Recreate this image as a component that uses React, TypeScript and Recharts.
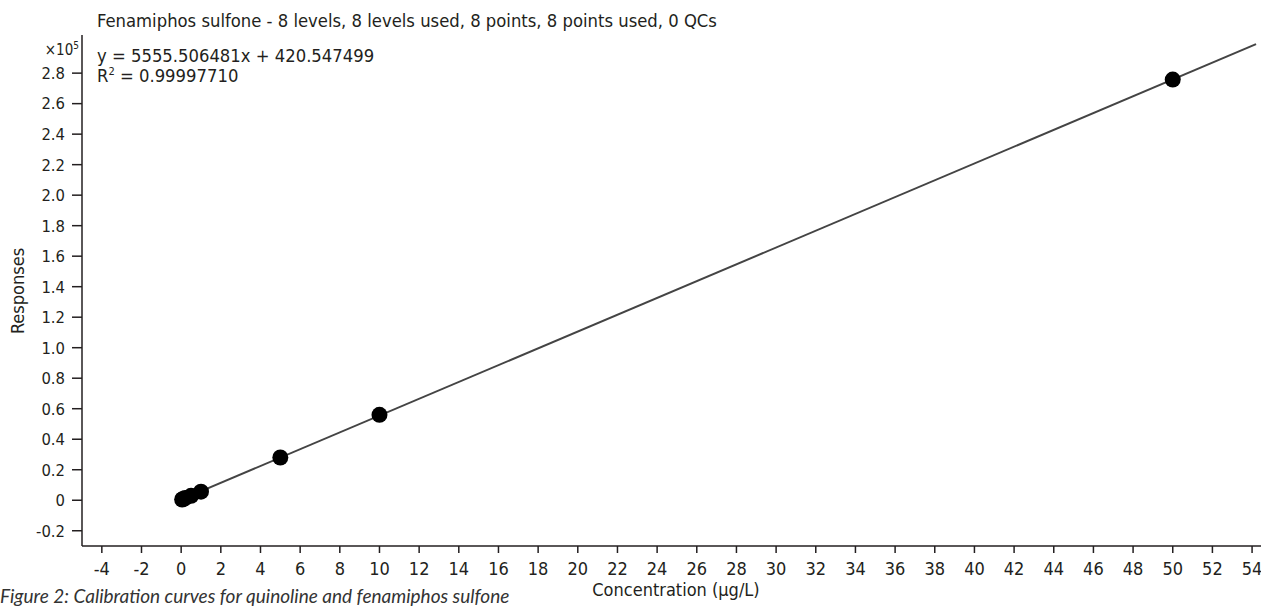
import React from 'react';
import { ScatterChart, Scatter, XAxis, YAxis } from 'recharts';

// calibration levels (µg/L) and measured responses
const levels = [0.05, 0.1, 0.2, 0.5, 1, 5, 10, 50];
const responses = [500, 800, 1400, 2900, 5600, 28000, 56000, 275800];

// regression line end points as drawn
const fitX = [0, 54.2];
const fitY = [420, 299000];

const xTicks = [-4, -2, 0, 2, 4, 6, 8, 10, 12, 14, 16, 18, 20, 22, 24, 26, 28, 30, 32, 34, 36, 38, 40, 42, 44, 46, 48, 50, 52, 54];
const yTicks = [-20000, 0, 20000, 40000, 60000, 80000, 100000, 120000, 140000, 160000, 180000, 200000, 220000, 240000, 260000, 280000];

const title = 'Fenamiphos sulfone - 8 levels, 8 levels used, 8 points, 8 points used, 0 QCs';
const equation = 'y = 5555.506481x + 420.547499';
const rSquared = '0.99997710';
const caption = 'Figure 2: Calibration curves for quinoline and fenamiphos sulfone';

const FONT = "'Liberation Sans Narrow', 'DejaVu Sans Condensed', 'Arial Narrow', sans-serif";
const INK = '#231f20';

const points = levels.map((x, i) => ({ x, y: responses[i] }));
const fit = fitX.map((x, i) => ({ x, y: fitY[i] }));

const fmtY = (v: number) => (v === 0 ? '0' : (v / 1e5).toFixed(1));

const App: React.FC = () => {
    return (
        <div style={{ position: 'absolute', left: 0, top: 0, width: 1261, height: 606, background: '#fff', overflow: 'hidden' }}>
            <ScatterChart width={1261} height={606} margin={{ top: 35, right: 0, bottom: 30, left: 32 }}>
                <XAxis
                    type="number"
                    dataKey="x"
                    domain={[-5, 54.45]}
                    ticks={xTicks}
                    allowDataOverflow
                    height={30}
                    tickSize={7}
                    tickMargin={9}
                    stroke={INK}
                    strokeWidth={1.5}
                    tick={{ fill: INK, fontSize: 18, fontFamily: FONT }}
                />
                <YAxis
                    type="number"
                    dataKey="y"
                    domain={[-30000, 305000]}
                    ticks={yTicks}
                    allowDataOverflow
                    width={50}
                    tickSize={10}
                    tickMargin={7}
                    tickFormatter={fmtY}
                    stroke={INK}
                    strokeWidth={1.5}
                    tick={{ fill: INK, fontSize: 16.5, fontFamily: FONT }}
                />
                <Scatter
                    data={fit}
                    line={{ stroke: '#444', strokeWidth: 2 }}
                    shape={() => <g />}
                    isAnimationActive={false}
                />
                <Scatter
                    data={points}
                    fill="#000"
                    shape={(p: any) => <circle cx={p.cx} cy={p.cy} r={8} fill="#000" />}
                    isAnimationActive={false}
                />
            </ScatterChart>
            <svg width={1261} height={606} style={{ position: 'absolute', left: 0, top: 0, pointerEvents: 'none' }}>
                <g fontFamily={FONT} fill={INK}>
                    <text x={97} y={27} fontSize={18.3}>{title}</text>
                    <text x={97} y={62} fontSize={18.3}>{equation}</text>
                    <text x={97} y={82} fontSize={18.3}>
                        R<tspan dy={-7} fontSize={11}>2</tspan>
                        <tspan dy={7}> = {rSquared}</tspan>
                    </text>
                    <text x={79} y={55} fontSize={15} textAnchor="end">
                        ×10<tspan dy={-6} fontSize={10}>5</tspan>
                    </text>
                    <text x={24} y={291} fontSize={18} textAnchor="middle" transform="rotate(-90 24 291)">Responses</text>
                    <text x={676} y={596} fontSize={18} textAnchor="middle">Concentration (µg/L)</text>
                </g>
                <text x={0} y={603} fontSize={19} fontStyle="italic" fontFamily="Lato, 'Open Sans', sans-serif" fill="#333">{caption}</text>
            </svg>
        </div>
    );
};

export default App;
